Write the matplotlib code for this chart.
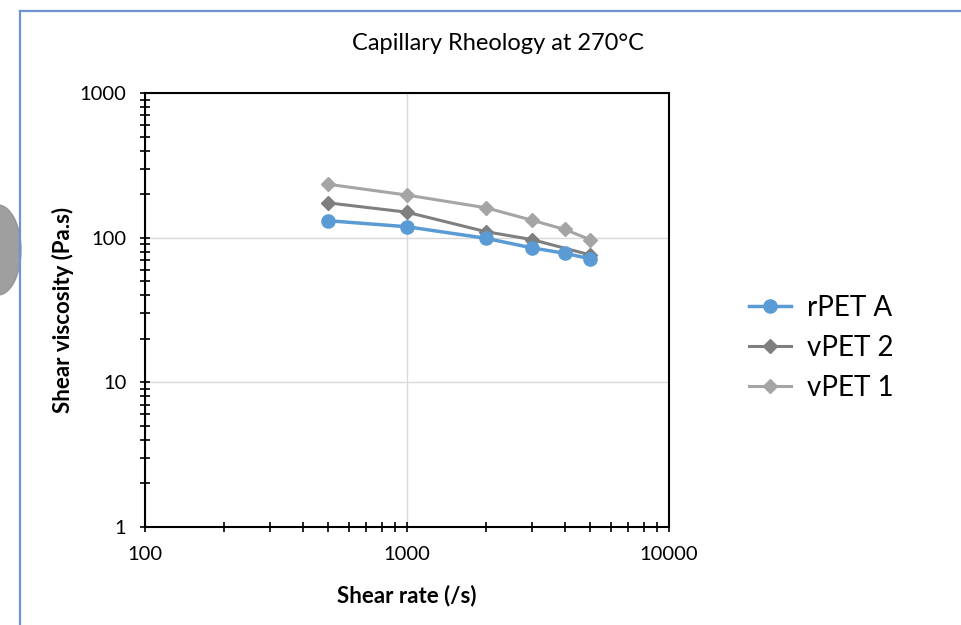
import numpy as np
import matplotlib
matplotlib.use("Agg")
import matplotlib.pyplot as plt
from matplotlib.patches import Ellipse
from matplotlib.lines import Line2D

plt.rcParams['font.family'] = ['Lato', 'DejaVu Sans']

# data (shear rate in 1/s, viscosity in Pa.s)
rate_rpet_a = [500, 1000, 2000, 3000, 4000, 5000]
visc_rpet_a = [131, 119, 99, 85, 78, 71.5]
rate_vpet_2 = [500, 1000, 2000, 3000, 5000]
visc_vpet_2 = [174, 150, 110, 97, 76]
rate_vpet_1 = [500, 1000, 2000, 3000, 4000, 5000]
visc_vpet_1 = [234, 197, 161, 132, 114, 97]

W, H = 962, 625
fig = plt.figure(figsize=(W / 100, H / 100), dpi=100)

# frame of the chart area and the grey blob on the left edge
fig.add_artist(Line2D([20 / W, 20 / W], [0, 1 - 11 / H], color='#6f93d2', lw=1.6))
fig.add_artist(Line2D([20 / W, 1], [1 - 11 / H, 1 - 11 / H], color='#6f93d2', lw=1.6))
fig.add_artist(Ellipse((-2 / W, 1 - 250 / H), 46 / W, 90 / H,
                       transform=fig.transFigure, color='#8e8e8e', alpha=0.85))

ax = fig.add_axes([145 / W, 98 / H, 524 / W, 434 / H])
ax.set_xscale('log')
ax.set_yscale('log')

ax.plot(rate_rpet_a, visc_rpet_a, color='#5B9BD5', lw=2.5, marker='o', ms=9.5,
        label='rPET A', zorder=5)
ax.plot(rate_vpet_2, visc_vpet_2, color='#7F7F7F', lw=2.2, marker='D', ms=7,
        label='vPET 2', zorder=4)
ax.plot(rate_vpet_1, visc_vpet_1, color='#A5A5A5', lw=2.2, marker='D', ms=7,
        label='vPET 1', zorder=3)

ax.set_xlim(100, 10000)
ax.set_ylim(1, 1000)
ax.set_xticks([100, 1000, 10000])
ax.set_xticklabels(['100', '1000', '10000'])
ax.set_yticks([1, 10, 100, 1000])
ax.set_yticklabels(['1', '10', '100', '1000'])

ax.grid(True, which='major', color='#D9D9D9', lw=1.0)
ax.set_axisbelow(True)
for s in ax.spines.values():
    s.set_color('black')
    s.set_linewidth(1.5)
ax.tick_params(which='both', direction='inout', length=7, width=1.2, colors='black',
               labelsize=14.5)
ax.tick_params(axis='x', which='major', pad=10)
ax.tick_params(axis='y', which='major', pad=10)

ax.set_xlabel('Shear rate (/s)', fontsize=16, fontweight='bold', labelpad=16)
ax.set_ylabel('Shear viscosity (Pa.s)', fontsize=16, fontweight='bold', labelpad=4)

fig.text(498 / W, 1 - 43 / H, 'Capillary Rheology at 270°C', fontsize=17,
         ha='center', va='center')

ax.legend(loc='center left', bbox_to_anchor=(724 / W, 1 - 348 / H),
          bbox_transform=fig.transFigure, frameon=False, fontsize=20,
          handlelength=1.5, handletextpad=0.6, labelspacing=0.5)

fig.savefig('out.png', dpi=100)
